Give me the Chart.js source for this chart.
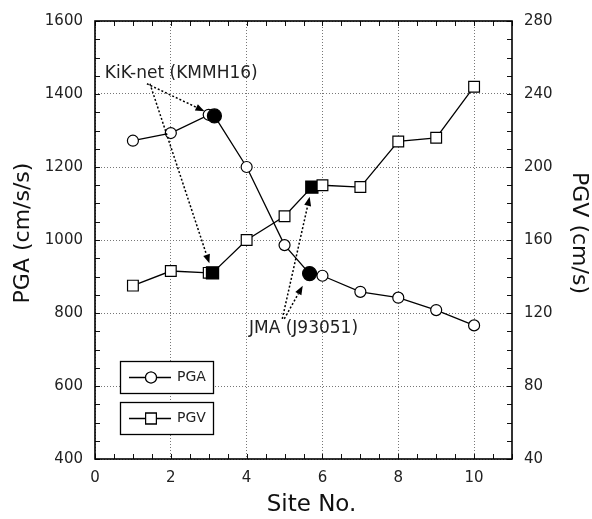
<!DOCTYPE html>
<html>
<head>
<meta charset="utf-8">
<script src="https://cdn.jsdelivr.net/npm/chart.js@4/dist/chart.umd.min.js"></script>
<style>
  body { margin: 0; background: #fff; }
  #wrap { width: 592px; height: 519px; }
</style>
</head>
<body>
<div id="wrap"><canvas id="chart-canvas"></canvas></div>
<script>
// values
const sites = [1, 2, 3, 4, 5, 6, 7, 8, 9, 10];
const pga = [1272, 1293, 1343, 1200, 986, 902, 858, 842, 808, 766];
const pgv = [135, 143, 142, 160, 173, 190, 189, 214, 216, 244];

// observed records (filled markers)
const stations = ['KiK-net (KMMH16)', 'JMA (J93051)'];
const stationPgaSite = [3.15, 5.66];
const stationPga = [1340, 908];
const stationPgvSite = [3.1, 5.72];
const stationPgv = [142, 189];

const xTicks = [0, 2, 4, 6, 8, 10];
const pgaTicks = [400, 600, 800, 1000, 1200, 1400, 1600];
const pgvTicks = [40, 80, 120, 160, 200, 240, 280];

const FONT = '"DejaVu Sans", sans-serif';

// merge the open (site) points and filled (station) points into one line
function merge(xs, ys, fx, fy) {
  const pts = xs.map((x, i) => ({ x: x, y: ys[i], filled: false }));
  fx.forEach((x, i) => pts.push({ x: x, y: fy[i], filled: true }));
  return pts.sort((a, b) => a.x - b.x);
}

const decor = {
  id: 'decor',
  afterDraw(chart) {
    const ctx = chart.ctx;
    const a = chart.chartArea;
    const sx = chart.scales.x, sy = chart.scales.y, sy2 = chart.scales.y2;
    ctx.save();

    // minor + major ticks, inside on all four sides
    ctx.strokeStyle = '#111';
    ctx.lineWidth = 1;
    ctx.beginPath();
    for (let v = 0; v <= 11; v += 0.5) {
      const px = Math.round(sx.getPixelForValue(v)) + 0.5;
      ctx.moveTo(px, a.bottom); ctx.lineTo(px, a.bottom - 5);
      ctx.moveTo(px, a.top); ctx.lineTo(px, a.top + 5);
    }
    for (let v = 400; v <= 1600; v += 50) {
      const py = Math.round(sy.getPixelForValue(v)) + 0.5;
      ctx.moveTo(a.left, py); ctx.lineTo(a.left + 5, py);
    }
    for (let v = 40; v <= 280; v += 10) {
      const py = Math.round(sy2.getPixelForValue(v)) + 0.5;
      ctx.moveTo(a.right, py); ctx.lineTo(a.right - 5, py);
    }
    ctx.stroke();

    // frame
    ctx.lineWidth = 1.6;
    ctx.strokeStyle = '#000';
    ctx.strokeRect(a.left, a.top, a.right - a.left, a.bottom - a.top);

    // annotation arrows
    function arrow(x1, y1, x2, y2, gap) {
      const dx = x2 - x1, dy = y2 - y1, len = Math.hypot(dx, dy);
      const ux = dx / len, uy = dy / len;
      const ex = x2 - ux * gap, ey = y2 - uy * gap;
      const hx = ex - ux * 9, hy = ey - uy * 9;
      ctx.setLineDash([2, 2]);
      ctx.lineWidth = 1.5;
      ctx.strokeStyle = '#000';
      ctx.beginPath();
      ctx.moveTo(x1, y1); ctx.lineTo(hx, hy);
      ctx.stroke();
      ctx.setLineDash([]);
      ctx.fillStyle = '#000';
      ctx.beginPath();
      ctx.moveTo(ex, ey);
      ctx.lineTo(hx - uy * 3.5, hy + ux * 3.5);
      ctx.lineTo(hx + uy * 3.5, hy - ux * 3.5);
      ctx.closePath();
      ctx.fill();
    }
    const kx = sx.getPixelForValue(1.37), ky = sy.getPixelForValue(1428);
    arrow(kx, ky, sx.getPixelForValue(stationPgaSite[0]), sy.getPixelForValue(stationPga[0]), 11);
    arrow(kx + 3, ky, sx.getPixelForValue(stationPgvSite[0]), sy2.getPixelForValue(stationPgv[0]), 10);
    const jx = sx.getPixelForValue(4.94), jy = sy.getPixelForValue(784);
    arrow(jx + 2, jy, sx.getPixelForValue(stationPgaSite[1]), sy.getPixelForValue(stationPga[1]), 14);
    arrow(jx, jy, sx.getPixelForValue(stationPgvSite[1]), sy2.getPixelForValue(stationPgv[1]), 10);

    // annotation labels
    ctx.fillStyle = '#222';
    ctx.font = '17px ' + FONT;
    ctx.textBaseline = 'middle';
    ctx.textAlign = 'left';
    ctx.fillText(stations[0], sx.getPixelForValue(0.26), sy.getPixelForValue(1455));
    ctx.textAlign = 'center';
    ctx.fillText(stations[1], sx.getPixelForValue(5.5), sy.getPixelForValue(758));

    // boxed legend entries
    const series = chart.data.datasets;
    series.forEach((ds, i) => {
      const bx = a.left + 25, by = a.bottom - 98 + i * 41, bw = 93, bh = 32;
      ctx.fillStyle = '#fff';
      ctx.fillRect(bx, by, bw, bh);
      ctx.lineWidth = 1.3;
      ctx.strokeStyle = '#000';
      ctx.strokeRect(bx + 0.5, by + 0.5, bw, bh);
      const cy = by + bh / 2 + 0.5;
      ctx.beginPath();
      ctx.moveTo(bx + 9, cy); ctx.lineTo(bx + 51, cy);
      ctx.stroke();
      ctx.fillStyle = '#fff';
      ctx.lineWidth = 1.2;
      Chart.helpers.drawPoint(ctx, { pointStyle: ds.pointStyle, radius: ds.legendRadius, borderWidth: 1.2, rotation: 0 }, bx + 31, cy);
      ctx.fill();
      ctx.stroke();
      ctx.fillStyle = '#222';
      ctx.font = '14px ' + FONT;
      ctx.textAlign = 'left';
      ctx.fillText(ds.label, bx + 57, cy);
    });

    // axis titles
    ctx.fillStyle = '#111';
    ctx.font = '22px ' + FONT;
    ctx.textAlign = 'center';
    ctx.save();
    ctx.translate(23, a.top + 212);
    ctx.rotate(-Math.PI / 2);
    ctx.fillText('PGA (cm/s/s)', 0, 0);
    ctx.restore();
    ctx.save();
    ctx.translate(579, a.top + 212);
    ctx.rotate(Math.PI / 2);
    ctx.fillText('PGV (cm/s)', 0, 0);
    ctx.restore();
    ctx.font = '23px ' + FONT;
    ctx.fillText('Site No.', (a.left + a.right) / 2 + 8, 505);

    ctx.restore();
  }
};

const tickFont = { family: FONT, size: 15 };
const plain = v => String(v);

new Chart(document.getElementById('chart-canvas'), {
  type: 'line',
  plugins: [decor],
  data: {
    datasets: [
      {
        label: 'PGA',
        yAxisID: 'y',
        data: merge(sites, pga, stationPgaSite, stationPga),
        borderColor: '#000',
        borderWidth: 1.3,
        pointStyle: 'circle',
        legendRadius: 5.5,
        pointRadius: c => (c.raw && c.raw.filled ? 7 : 5.5),
        pointBorderWidth: 1.2,
        pointBorderColor: '#000',
        pointBackgroundColor: c => (c.raw && c.raw.filled ? '#000' : '#fff'),
      },
      {
        label: 'PGV',
        yAxisID: 'y2',
        data: merge(sites, pgv, stationPgvSite, stationPgv),
        borderColor: '#000',
        borderWidth: 1.3,
        pointStyle: 'rect',
        legendRadius: 7.6,
        pointRadius: c => (c.raw && c.raw.filled ? 8.6 : 7.6),
        pointBorderWidth: 1.2,
        pointBorderColor: '#000',
        pointBackgroundColor: c => (c.raw && c.raw.filled ? '#000' : '#fff'),
      }
    ]
  },
  options: {
    responsive: true,
    maintainAspectRatio: false,
    animation: false,
    layout: { padding: { top: 20, left: 0, right: 0, bottom: 0 } },
    plugins: {
      legend: { display: false },
      tooltip: { enabled: false },
    },
    scales: {
      x: {
        type: 'linear',
        min: 0,
        max: 11,
        afterBuildTicks: axis => { axis.ticks = xTicks.map(v => ({ value: v })); },
        afterFit: axis => { axis.height = 60; },
        grid: { color: '#777', drawTicks: false },
        border: { display: false, dash: [1, 2] },
        ticks: { padding: 10, font: tickFont, color: '#222', callback: plain },
      },
      y: {
        position: 'left',
        min: 400,
        max: 1600,
        afterBuildTicks: axis => { axis.ticks = pgaTicks.map(v => ({ value: v })); },
        afterFit: axis => { axis.width = 95; },
        grid: { color: '#777', drawTicks: false },
        border: { display: false, dash: [1, 2] },
        ticks: { padding: 12, font: tickFont, color: '#222', callback: plain },
      },
      y2: {
        position: 'right',
        min: 40,
        max: 280,
        afterBuildTicks: axis => { axis.ticks = pgvTicks.map(v => ({ value: v })); },
        afterFit: axis => { axis.width = 80; },
        grid: { display: false, drawTicks: false },
        border: { display: false },
        ticks: { padding: 12, font: tickFont, color: '#222', callback: plain },
      }
    }
  }
});
</script>
</body>
</html>
